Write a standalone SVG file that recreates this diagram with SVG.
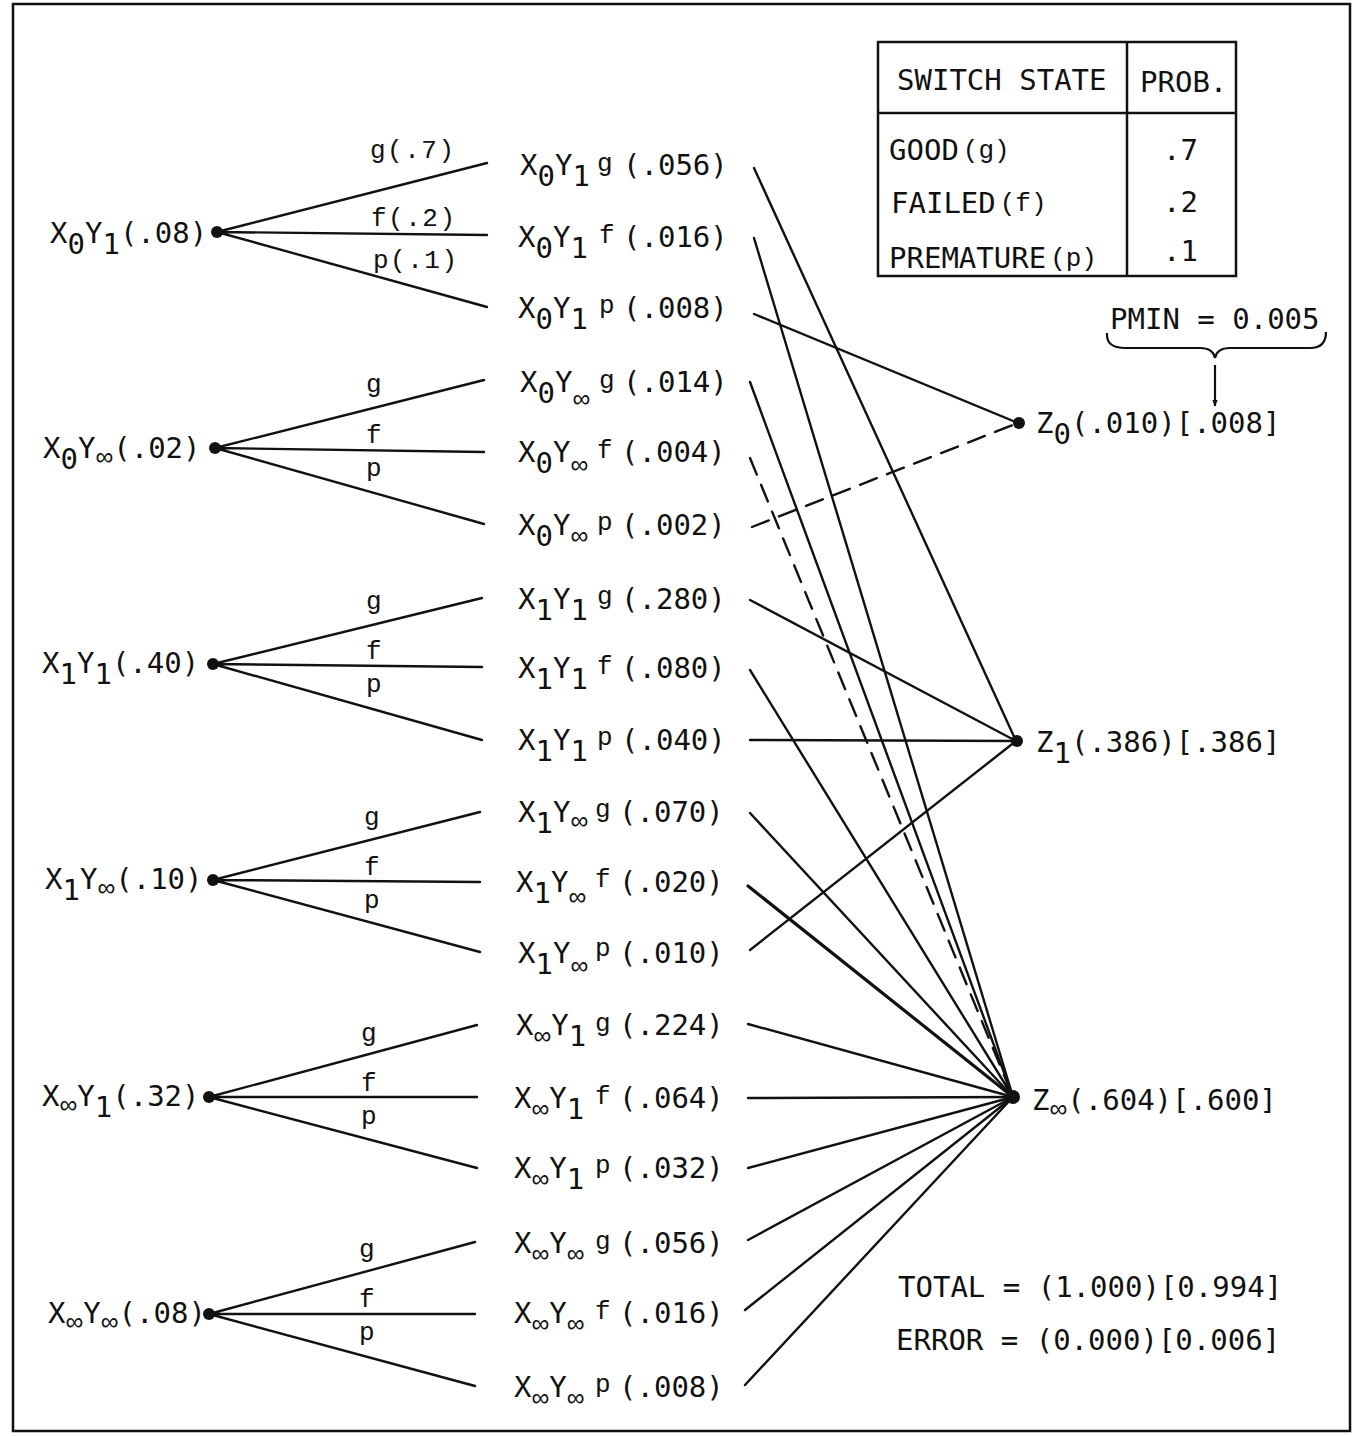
<svg xmlns="http://www.w3.org/2000/svg" width="1353" height="1436" viewBox="0 0 1353 1436">
<style>
.t{font-family:"DejaVu Sans Mono","Liberation Mono",monospace;font-size:29px;fill:#111}
.s{font-family:"Liberation Mono","Courier New",monospace;font-size:26px;fill:#111}
.b{font-family:"Liberation Mono","Courier New",monospace;font-size:26px;fill:#111;letter-spacing:1.5px}
.i{font-family:"Liberation Sans","DejaVu Sans",sans-serif;font-size:25px}
.ln{stroke:#111;stroke-width:2.4;fill:none;stroke-linecap:round}
.ds{stroke-dasharray:18 11}
.dot{fill:#111}
</style>
<defs>
<marker id="ah" viewBox="0 0 10 10" refX="9" refY="5" markerWidth="7" markerHeight="9" orient="auto" markerUnits="userSpaceOnUse">
<path d="M0,1 L10,5 L0,9 z" fill="#111"/>
</marker>
</defs>
<rect x="13" y="4" width="1337" height="1427" fill="#fff" stroke="#111" stroke-width="2.5"/>

<g id="connectors">
<path class="ln" d="M217,232 L487,163 M217,232 L487,235 M217,232 L487,307"/>
<path class="ln" d="M215,448 L484,380 M215,448 L484,452 M215,448 L484,524"/>
<path class="ln" d="M213,664 L482,598 M213,664 L482,667 M213,664 L482,740"/>
<path class="ln" d="M213,880 L480,812 M213,880 L480,882 M213,880 L480,952"/>
<path class="ln" d="M209,1097 L477,1025 M209,1097 L477,1097 M209,1097 L477,1168"/>
<path class="ln" d="M209,1314 L475,1242 M209,1314 L475,1314 M209,1314 L475,1386"/>
<text class="b" x="370" y="158">g(.7)</text>
<text class="b" x="371" y="226">f(.2)</text>
<text class="b" x="373" y="268">p(.1)</text>
<text class="s" x="366" y="392">g</text><text class="s" x="366" y="443">f</text><text class="s" x="366" y="476">p</text>
<text class="s" x="366" y="609">g</text><text class="s" x="366" y="659">f</text><text class="s" x="366" y="692">p</text>
<text class="s" x="364" y="825">g</text><text class="s" x="364" y="875">f</text><text class="s" x="364" y="908">p</text>
<text class="s" x="361" y="1041">g</text><text class="s" x="361" y="1091">f</text><text class="s" x="361" y="1124">p</text>
<text class="s" x="359" y="1257">g</text><text class="s" x="359" y="1307">f</text><text class="s" x="359" y="1340">p</text>
<path class="ln" d="M754,168 L1016,741"/>
<path class="ln" d="M754,238 L1013,1097"/>
<path class="ln" d="M754,314 L1018,423"/>
<path class="ln" d="M750,382 L1013,1097"/>
<path class="ln ds" d="M750,458 L1013,1097"/>
<path class="ln ds" d="M752,527 L1018,423"/>
<path class="ln" d="M750,600 L1016,741"/>
<path class="ln" d="M750,670 L1013,1097"/>
<path class="ln" d="M750,740 L1016,741"/>
<path class="ln" d="M750,813 L1013,1097"/>
<path class="ln" style="stroke-width:3.2" d="M748,886 L1013,1097"/>
<path class="ln" d="M750,950 L1016,741"/>
<path class="ln" d="M748,1024 L1013,1097"/>
<path class="ln" d="M748,1098 L1013,1097"/>
<path class="ln" d="M748,1168 L1013,1097"/>
<path class="ln" d="M748,1240 L1013,1097"/>
<path class="ln" d="M745,1310 L1013,1097"/>
<path class="ln" d="M745,1385 L1013,1097"/>
</g>

<g id="n-x0y1"><text class="t" x="50" y="243">X<tspan dy="11">0</tspan><tspan dy="-11">Y</tspan><tspan dy="11">1</tspan><tspan dy="-11">(.08)</tspan></text><circle class="dot" cx="217" cy="232" r="6"/></g>
<g id="n-x0yinf"><text class="t" x="43" y="458">X<tspan dy="11">0</tspan><tspan dy="-11">Y</tspan><tspan class="i" dy="7">∞</tspan><tspan dy="-7">(.02)</tspan></text><circle class="dot" cx="215" cy="448" r="6"/></g>
<g id="n-x1y1"><text class="t" x="42" y="673">X<tspan dy="11">1</tspan><tspan dy="-11">Y</tspan><tspan dy="11">1</tspan><tspan dy="-11">(.40)</tspan></text><circle class="dot" cx="213" cy="664" r="6"/></g>
<g id="n-x1yinf"><text class="t" x="45" y="889">X<tspan dy="11">1</tspan><tspan dy="-11">Y</tspan><tspan class="i" dy="7">∞</tspan><tspan dy="-7">(.10)</tspan></text><circle class="dot" cx="213" cy="880" r="6"/></g>
<g id="n-xinfy1"><text class="t" x="42" y="1106">X<tspan class="i" dy="7">∞</tspan><tspan dy="-7">Y</tspan><tspan dy="11">1</tspan><tspan dy="-11">(.32)</tspan></text><circle class="dot" cx="209" cy="1097" r="6"/></g>
<g id="n-xinfyinf"><text class="t" x="48" y="1323">X<tspan class="i" dy="7">∞</tspan><tspan dy="-7">Y</tspan><tspan class="i" dy="7">∞</tspan><tspan dy="-7">(.08)</tspan></text><circle class="dot" cx="209" cy="1314" r="6"/></g>

<g id="m1"><text class="t" x="520" y="175">X<tspan dy="11">0</tspan><tspan dy="-11">Y</tspan><tspan dy="11">1</tspan></text><text class="s" x="597" y="171">g</text><text class="t" x="623" y="175">(.056)</text></g>
<g id="m2"><text class="t" x="518" y="247">X<tspan dy="11">0</tspan><tspan dy="-11">Y</tspan><tspan dy="11">1</tspan></text><text class="s" x="599" y="243">f</text><text class="t" x="623" y="247">(.016)</text></g>
<g id="m3"><text class="t" x="518" y="318">X<tspan dy="11">0</tspan><tspan dy="-11">Y</tspan><tspan dy="11">1</tspan></text><text class="s" x="599" y="313">p</text><text class="t" x="623" y="318">(.008)</text></g>
<g id="m4"><text class="t" x="520" y="392">X<tspan dy="11">0</tspan><tspan dy="-11">Y</tspan><tspan class="i" dy="15">∞</tspan></text><text class="s" x="599" y="388">g</text><text class="t" x="623" y="392">(.014)</text></g>
<g id="m5"><text class="t" x="518" y="462">X<tspan dy="11">0</tspan><tspan dy="-11">Y</tspan><tspan class="i" dy="11">∞</tspan></text><text class="s" x="597" y="458">f</text><text class="t" x="621" y="462">(.004)</text></g>
<g id="m6"><text class="t" x="518" y="535">X<tspan dy="11">0</tspan><tspan dy="-11">Y</tspan><tspan class="i" dy="9">∞</tspan></text><text class="s" x="597" y="530">p</text><text class="t" x="621" y="535">(.002)</text></g>
<g id="m7"><text class="t" x="518" y="609">X<tspan dy="11">1</tspan><tspan dy="-11">Y</tspan><tspan dy="11">1</tspan></text><text class="s" x="597" y="604">g</text><text class="t" x="621" y="609">(.280)</text></g>
<g id="m8"><text class="t" x="518" y="678">X<tspan dy="11">1</tspan><tspan dy="-11">Y</tspan><tspan dy="11">1</tspan></text><text class="s" x="597" y="674">f</text><text class="t" x="621" y="678">(.080)</text></g>
<g id="m9"><text class="t" x="518" y="750">X<tspan dy="11">1</tspan><tspan dy="-11">Y</tspan><tspan dy="11">1</tspan></text><text class="s" x="597" y="745">p</text><text class="t" x="621" y="750">(.040)</text></g>
<g id="m10"><text class="t" x="518" y="822">X<tspan dy="11">1</tspan><tspan dy="-11">Y</tspan><tspan class="i" dy="7">∞</tspan></text><text class="s" x="595" y="817">g</text><text class="t" x="619" y="822">(.070)</text></g>
<g id="m11"><text class="t" x="516" y="892">X<tspan dy="11">1</tspan><tspan dy="-11">Y</tspan><tspan class="i" dy="13">∞</tspan></text><text class="s" x="595" y="887">f</text><text class="t" x="619" y="892">(.020)</text></g>
<g id="m12"><text class="t" x="518" y="963">X<tspan dy="11">1</tspan><tspan dy="-11">Y</tspan><tspan class="i" dy="11">∞</tspan></text><text class="s" x="595" y="956">p</text><text class="t" x="619" y="963">(.010)</text></g>
<g id="m13"><text class="t" x="516" y="1035">X<tspan class="i" dy="9">∞</tspan><tspan dy="-9">Y</tspan><tspan dy="11">1</tspan></text><text class="s" x="595" y="1031">g</text><text class="t" x="619" y="1035">(.224)</text></g>
<g id="m14"><text class="t" x="514" y="1108">X<tspan class="i" dy="9">∞</tspan><tspan dy="-9">Y</tspan><tspan dy="11">1</tspan></text><text class="s" x="595" y="1104">f</text><text class="t" x="619" y="1108">(.064)</text></g>
<g id="m15"><text class="t" x="514" y="1178">X<tspan class="i" dy="9">∞</tspan><tspan dy="-9">Y</tspan><tspan dy="11">1</tspan></text><text class="s" x="595" y="1173">p</text><text class="t" x="619" y="1178">(.032)</text></g>
<g id="m16"><text class="t" x="514" y="1253">X<tspan class="i" dy="9">∞</tspan><tspan dy="-9">Y</tspan><tspan class="i" dy="9">∞</tspan></text><text class="s" x="595" y="1249">g</text><text class="t" x="619" y="1253">(.056)</text></g>
<g id="m17"><text class="t" x="514" y="1323">X<tspan class="i" dy="9">∞</tspan><tspan dy="-9">Y</tspan><tspan class="i" dy="9">∞</tspan></text><text class="s" x="595" y="1319">f</text><text class="t" x="619" y="1323">(.016)</text></g>
<g id="m18"><text class="t" x="514" y="1397">X<tspan class="i" dy="9">∞</tspan><tspan dy="-9">Y</tspan><tspan class="i" dy="9">∞</tspan></text><text class="s" x="595" y="1392">p</text><text class="t" x="619" y="1397">(.008)</text></g>

<g id="z0"><circle class="dot" cx="1019" cy="423" r="6"/><text class="t" x="1036" y="433">Z<tspan dy="11">0</tspan><tspan dy="-11">(.010)[.008]</tspan></text></g>
<g id="z1"><circle class="dot" cx="1017" cy="741" r="6"/><text class="t" x="1036" y="752">Z<tspan dy="11">1</tspan><tspan dy="-11">(.386)[.386]</tspan></text></g>
<g id="zinf"><circle class="dot" cx="1013" cy="1097" r="7"/><text class="t" x="1032" y="1110">Z<tspan class="i" dy="7">∞</tspan><tspan dy="-7">(.604)[.600]</tspan></text></g>

<g id="table">
<rect x="878" y="42" width="358" height="234" fill="none" stroke="#111" stroke-width="2.5"/>
<line x1="878" y1="113" x2="1236" y2="113" stroke="#111" stroke-width="2.5"/>
<line x1="1127" y1="42" x2="1127" y2="276" stroke="#111" stroke-width="2.5"/>
<text class="t" x="897" y="90">SWITCH STATE</text>
<text class="t" x="1140" y="92">PROB.</text>
<text class="t" x="889" y="160">GOOD<tspan class="s" font-size="24" dx="4" dy="-2">(g)</tspan></text>
<text class="t" x="891" y="213">FAILED<tspan class="s" font-size="24" dx="4" dy="-2">(f)</tspan></text>
<text class="t" x="889" y="268">PREMATURE<tspan class="s" font-size="24" dx="4" dy="-2">(p)</tspan></text>
<text class="t" x="1163" y="160">.7</text>
<text class="t" x="1163" y="212">.2</text>
<text class="t" x="1163" y="261">.1</text>
</g>

<g id="pmin">
<text class="t" x="1110" y="329">PMIN = 0.005</text>
<path d="M1107,333 Q1106,348 1125,348 L1200,348 Q1213,348 1215,358 Q1217,348 1230,348 L1310,348 Q1326,348 1326,332" fill="none" stroke="#111" stroke-width="2.2"/>
<line x1="1215" y1="365" x2="1215" y2="406" stroke="#111" stroke-width="2.2" marker-end="url(#ah)"/>
</g>

<g id="totals">
<text class="t" x="898" y="1297">TOTAL = (1.000)[0.994]</text>
<text class="t" x="896" y="1350">ERROR = (0.000)[0.006]</text>
</g>
</svg>
